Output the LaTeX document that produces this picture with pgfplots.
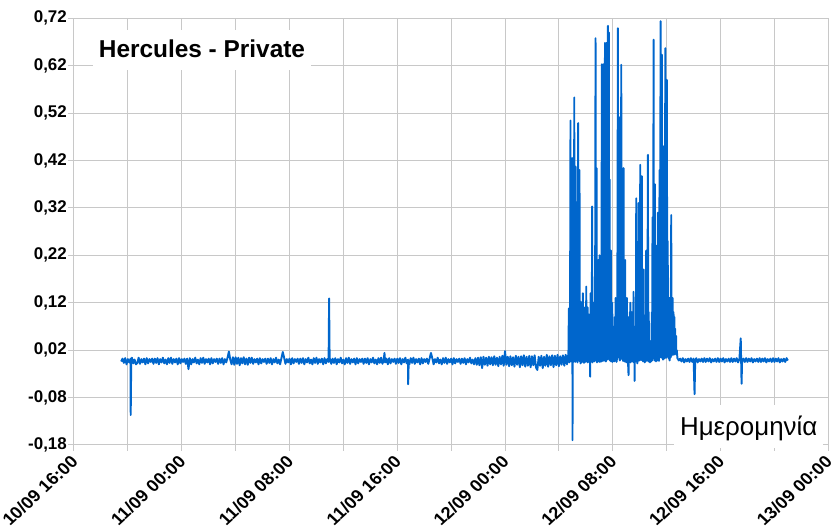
\documentclass[border=0pt]{standalone}
\usepackage{pgfplots}
\pgfplotsset{compat=1.18}
\usepackage{fontspec}
\setmainfont{Liberation Sans}
\definecolor{series}{HTML}{0066CC}
\definecolor{gridc}{HTML}{C8C8C8}

\begin{document}
\begin{tikzpicture}
\begin{axis}[
  scale only axis, width=754.3bp, height=426.6bp,
  xmin=0, xmax=56, ymin=-0.18, ymax=0.72,
  xtick={0,8,...,56}, minor xtick={4,12,...,52},
  xticklabels={10/09 16:00, 11/09 00:00, 11/09 08:00, 11/09 16:00, 12/09 00:00, 12/09 08:00, 12/09 16:00, 13/09 00:00},
  ytick={-0.18,-0.08,0.02,0.12,0.22,0.32,0.42,0.52,0.62,0.72},
  yticklabels={{-0,18},{-0,08},{0,02},{0,12},{0,22},{0,32},{0,42},{0,52},{0,62},{0,72}},
  grid=both,
  major grid style={draw=gridc, line width=1bp},
  minor grid style={draw=gridc, line width=1bp},
  axis line style={draw=gridc, line width=1bp},
  tick style={draw=gridc, line width=1bp},
  tick align=outside, tick pos=left,
  major tick length=6bp, minor tick length=6bp,
  ticklabel style={font=\bfseries\fontsize{17}{20}\selectfont},
  xticklabel style={xshift=-4.3bp, yshift=-2.9bp, xscale=1.08, rotate=45,
                    anchor=north east, inner sep=0pt},
  yticklabel style={inner sep=1bp},
  clip=false,
]
% time in hours after 10/09 16:00
\addplot[series, line width=1.9bp, line join=round] coordinates {
(3.5,-0.004) (3.6,0.002) (3.7,-0.007) (3.8,0.003) (3.9,-0.010) (4.0,0.001) (4.1,-0.006)
(4.2,0.002) (4.21,-0.117) (4.25,-0.006) (4.3,0.004) (4.4,-0.008) (4.5,0.000) (4.6,-0.010)
(4.7,-0.007) (4.8,0.004) (4.9,-0.009) (5.0,0.001) (5.1,-0.006) (5.2,0.002) (5.3,-0.010)
(5.4,0.003) (5.5,-0.008) (5.6,0.001) (5.7,-0.005) (5.8,0.002)
(5.9,-0.009) (6.0,0.002) (6.1,-0.007) (6.2,0.003) (6.3,-0.010) (6.4,0.001) (6.5,-0.006)
(6.6,0.004) (6.7,-0.008) (6.8,0.000) (6.9,-0.010) (7.0,0.003)
(7.1,-0.007) (7.2,0.004) (7.3,-0.009) (7.4,0.001) (7.5,-0.006) (7.6,0.002) (7.7,-0.010)
(7.8,0.003) (7.9,-0.008) (8.0,0.001) (8.1,-0.005) (8.2,0.002)
(8.3,-0.009) (8.4,0.002) (8.5,-0.020) (8.6,0.003) (8.7,-0.010) (8.8,0.001) (8.9,-0.006)
(9.0,0.004) (9.1,-0.008) (9.2,0.000) (9.3,-0.010) (9.4,0.003)
(9.5,-0.007) (9.6,0.004) (9.7,-0.009) (9.8,0.001) (9.9,-0.006) (10.0,0.002) (10.1,-0.010)
(10.2,0.003) (10.3,-0.008) (10.4,0.001) (10.5,-0.005) (10.6,0.002)
(10.7,-0.009) (10.8,0.002) (10.9,-0.007) (11.0,0.003) (11.1,-0.010) (11.2,0.001) (11.3,-0.006)
(11.4,0.004) (11.5,0.017) (11.6,0.000) (11.7,-0.010) (11.8,0.005)
(11.9,-0.011) (12.0,0.005) (12.1,-0.009) (12.2,0.004) (12.3,-0.012) (12.4,0.003) (12.5,-0.008)
(12.6,0.005) (12.7,-0.010) (12.8,0.002) (12.9,-0.011) (13.0,0.004)
(13.1,-0.007) (13.2,0.004) (13.3,-0.009) (13.4,0.001) (13.5,-0.006) (13.6,0.002) (13.7,-0.010)
(13.8,0.003) (13.9,-0.008) (14.0,0.001) (14.1,-0.005) (14.2,0.002)
(14.3,-0.009) (14.4,0.002) (14.5,-0.007) (14.6,0.003) (14.7,-0.010) (14.8,0.001) (14.9,-0.006)
(15.0,0.004) (15.1,-0.008) (15.2,0.000) (15.3,-0.010) (15.4,0.003)
(15.5,0.016) (15.6,0.004) (15.7,-0.009) (15.8,0.001) (15.9,-0.006) (16.0,0.002) (16.1,-0.010)
(16.2,0.003) (16.3,-0.008) (16.4,0.001) (16.5,-0.005) (16.6,0.002)
(16.7,-0.009) (16.8,0.002) (16.9,-0.007) (17.0,0.003) (17.1,-0.010) (17.2,0.001) (17.3,-0.006)
(17.4,0.004) (17.5,-0.008) (17.6,0.000) (17.7,-0.010) (17.8,0.003)
(17.9,-0.007) (18.0,0.004) (18.1,-0.009) (18.2,0.001) (18.3,-0.006) (18.4,0.002) (18.5,-0.010)
(18.6,0.003) (18.7,-0.008) (18.8,0.001) (18.9,-0.005) (18.94,0.129) (18.98,-0.004) (19.0,0.002)
(19.1,-0.009) (19.2,0.002) (19.3,-0.007) (19.4,0.003) (19.5,-0.010) (19.6,0.001) (19.7,-0.006)
(19.8,0.004) (19.9,-0.008) (20.0,0.000) (20.1,-0.010) (20.2,0.003)
(20.3,-0.007) (20.4,0.004) (20.5,-0.009) (20.6,0.001) (20.7,-0.006) (20.8,0.002) (20.9,-0.010)
(21.0,0.003) (21.1,-0.008) (21.2,0.001) (21.3,-0.005) (21.4,0.002)
(21.5,-0.009) (21.6,0.002) (21.7,-0.007) (21.8,0.003) (21.9,-0.010) (22.0,0.001) (22.1,-0.006)
(22.2,0.004) (22.3,-0.008) (22.4,0.000) (22.5,-0.010) (22.6,0.003)
(22.7,-0.007) (22.8,0.004) (22.9,-0.009) (23.0,0.001) (23.05,0.014) (23.1,-0.006) (23.2,0.002)
(23.3,-0.010) (23.4,0.003) (23.5,-0.008) (23.6,0.001) (23.7,-0.005) (23.8,0.002)
(23.9,-0.009) (24.0,0.002) (24.1,-0.007) (24.2,0.003) (24.3,-0.010) (24.4,0.001) (24.5,-0.006)
(24.6,0.004) (24.7,-0.008) (24.8,0.000) (24.81,-0.052) (24.85,-0.004) (24.9,-0.010) (25.0,0.003)
(25.1,-0.007) (25.2,0.004) (25.3,-0.009) (25.4,0.001) (25.5,-0.006) (25.6,0.002) (25.7,-0.010)
(25.8,0.003) (25.9,-0.008) (26.0,0.001) (26.1,-0.005) (26.2,0.002)
(26.3,-0.009) (26.4,0.002) (26.5,0.014) (26.6,0.003) (26.7,-0.010) (26.8,0.001) (26.9,-0.006)
(27.0,0.004) (27.1,-0.008) (27.2,0.000) (27.3,-0.010) (27.4,0.003)
(27.5,-0.007) (27.6,0.004) (27.7,-0.009) (27.8,0.001) (27.9,-0.006) (28.0,0.002) (28.1,-0.010)
(28.2,0.003) (28.3,-0.008) (28.4,0.001) (28.5,-0.005) (28.6,0.002)
(28.7,-0.009) (28.8,0.002) (28.9,-0.007) (29.0,0.003) (29.1,-0.010) (29.2,0.001) (29.3,-0.006)
(29.4,0.004) (29.5,-0.008) (29.6,0.000) (29.7,-0.010) (29.8,0.003)
(29.9,-0.011) (30.0,0.004) (30.1,-0.012) (30.2,0.005) (30.3,-0.018) (30.4,0.006) (30.5,-0.011)
(30.6,0.004) (30.7,-0.013) (30.8,0.006) (30.9,-0.010) (31.0,0.005)
(31.1,-0.012) (31.2,0.007) (31.3,-0.011) (31.4,0.004) (31.5,-0.014) (31.6,0.006) (31.7,-0.010)
(31.8,0.008) (31.9,-0.013) (32.0,0.018) (32.1,-0.011) (32.2,0.006)
(32.3,-0.014) (32.4,0.007) (32.5,-0.012) (32.6,0.005) (32.7,-0.015) (32.8,0.008) (32.9,-0.011)
(33.0,0.006) (33.1,-0.016) (33.2,0.007) (33.3,-0.012) (33.4,0.009)
(33.5,-0.015) (33.6,0.006) (33.7,-0.013) (33.8,0.008) (33.9,-0.016) (34.0,0.007) (34.1,-0.012)
(34.2,0.009) (34.3,-0.017) (34.4,-0.022) (34.5,0.006) (34.6,-0.013)
(34.7,0.008) (34.8,-0.018) (34.9,0.006) (35.0,-0.013) (35.1,0.010) (35.2,-0.015) (35.3,0.007)
(35.4,-0.012) (35.5,0.009) (35.6,-0.016) (35.7,0.008) (35.8,-0.012)
(35.9,0.010) (36.0,-0.014) (36.1,0.007) (36.2,-0.011) (36.3,0.009) (36.4,-0.013) (36.5,0.010)
(36.6,-0.010) (36.65,0.008)
(36.70,-0.004) (36.74,0.108) (36.76,-0.006) (36.80,0.090) (36.82,-0.002) (36.86,0.504)
(36.88,-0.004) (36.92,0.110) (36.94,0.000) (36.99,0.425) (37.01,-0.170) (37.03,0.080)
(37.05,-0.006) (37.09,0.120) (37.11,-0.002) (37.14,0.553) (37.16,0.000) (37.19,0.100)
(37.21,-0.005) (37.24,0.407) (37.26,-0.003) (37.30,0.120) (37.32,0.002) (37.36,0.090)
(37.38,-0.006) (37.43,0.499) (37.45,-0.002) (37.49,0.110) (37.51,0.001) (37.53,0.400)
(37.55,-0.004) (37.58,0.100) (37.60,-0.008) (37.61,0.122) (37.64,-0.003) (37.67,0.090)
(37.69,-0.006) (37.73,0.110) (37.75,0.000) (37.78,0.140) (37.80,-0.004) (37.84,0.080)
(37.86,-0.007) (37.90,0.100) (37.91,-0.002) (37.93,0.110) (37.96,-0.005) (37.99,0.090)
(38.01,0.000) (38.03,0.154) (38.05,-0.004) (38.08,0.100) (38.10,-0.002) (38.13,0.110)
(38.15,-0.006) (38.18,0.080) (38.20,-0.003) (38.23,0.095) (38.25,-0.005) (38.29,0.070)
(38.32,-0.036) (38.35,0.140) (38.37,-0.004) (38.41,0.100) (38.43,-0.002) (38.47,0.323)
(38.49,-0.006) (38.53,0.120) (38.55,0.001) (38.60,0.120) (38.62,-0.004) (38.66,0.090)
(38.68,-0.002) (38.72,0.678) (38.74,0.000) (38.77,0.150) (38.78,-0.003) (38.80,0.404)
(38.82,-0.006) (38.86,0.130) (38.88,-0.002) (38.92,0.210) (38.94,-0.004) (38.97,0.120)
(38.99,0.000) (39.02,0.220) (39.04,-0.005) (39.08,0.140) (39.10,-0.002) (39.14,0.200)
(39.15,-0.004) (39.19,0.623) (39.21,0.000) (39.25,0.300) (39.27,-0.003) (39.31,0.623)
(39.33,0.002) (39.37,0.350) (39.38,-0.002) (39.42,0.668) (39.44,0.000) (39.48,0.260)
(39.49,-0.004) (39.52,0.668) (39.54,0.400) (39.56,0.002) (39.60,0.450) (39.62,0.000)
(39.64,0.704) (39.66,0.010) (39.69,0.550) (39.71,0.690) (39.73,0.004) (39.76,0.380)
(39.78,-0.002) (39.82,0.150) (39.84,0.000) (39.86,0.230) (39.88,-0.004) (39.92,0.100)
(39.94,-0.002) (39.96,0.120) (39.98,-0.005) (40.02,0.040) (40.05,-0.003) (40.08,0.010)
(40.11,-0.004) (40.15,0.090) (40.17,0.000) (40.21,0.130) (40.23,-0.003) (40.27,0.100)
(40.28,-0.005) (40.30,0.110) (40.33,0.000) (40.38,0.699) (40.40,0.020) (40.45,0.512)
(40.47,0.004) (40.51,0.090) (40.53,-0.002) (40.55,0.100) (40.58,0.000) (40.63,0.622)
(40.65,0.010) (40.68,0.300) (40.70,0.002) (40.74,0.120) (40.76,-0.003) (40.80,0.404)
(40.82,0.000) (40.86,0.150) (40.88,-0.004) (40.92,0.210) (40.94,0.000) (40.98,0.110)
(41.00,-0.006) (41.05,0.130) (41.07,-0.002) (41.11,0.090) (41.13,-0.005) (41.17,-0.033)
(41.19,0.080) (41.22,-0.004) (41.26,0.100) (41.28,-0.002) (41.30,0.120) (41.32,-0.006)
(41.36,0.090) (41.38,0.000) (41.42,0.100) (41.44,-0.004) (41.48,0.080) (41.50,-0.002)
(41.54,0.143) (41.56,-0.006) (41.59,0.070) (41.62,-0.045) (41.64,0.010) (41.67,0.000)
(41.70,0.050) (41.72,-0.004) (41.74,0.340) (41.76,0.000) (41.80,0.060) (41.82,-0.008)
(41.84,0.000) (41.87,0.120) (41.89,-0.003) (41.91,0.330) (41.93,0.002) (41.97,0.200)
(41.99,-0.002) (42.04,0.411) (42.06,0.004) (42.10,0.250) (42.12,-0.001) (42.16,0.387)
(42.18,0.002) (42.22,0.150) (42.24,-0.004) (42.29,0.190) (42.31,-0.002) (42.35,0.060)
(42.37,-0.006) (42.41,0.002) (42.44,-0.004) (42.46,0.080) (42.48,0.230) (42.50,-0.002)
(42.54,0.140) (42.56,0.000) (42.61,0.432) (42.63,-0.004) (42.67,0.100) (42.69,-0.002)
(42.73,0.002) (42.76,-0.006) (42.80,0.030) (42.83,0.040) (42.85,-0.004) (42.90,0.100)
(42.92,-0.002) (42.95,0.300) (42.97,0.002) (43.00,0.200) (43.03,0.675) (43.05,0.004)
(43.09,0.180) (43.11,-0.002) (43.13,0.370) (43.15,0.000) (43.19,0.150) (43.21,-0.004)
(43.23,0.240) (43.25,0.000) (43.29,0.200) (43.31,-0.002) (43.35,0.310) (43.37,0.002)
(43.41,0.220) (43.43,-0.003) (43.47,0.400) (43.49,0.004) (43.52,0.300) (43.55,0.714)
(43.57,0.010) (43.60,0.350) (43.62,0.004) (43.65,0.643) (43.67,0.006) (43.71,0.300)
(43.73,0.000) (43.77,0.450) (43.79,0.004) (43.83,0.280) (43.85,0.002) (43.90,0.657)
(43.92,0.008) (43.96,0.400) (43.98,0.004) (44.02,0.590) (44.04,0.010) (44.08,0.250)
(44.10,0.006) (44.14,0.110) (44.16,0.002) (44.20,0.130) (44.22,-0.002) (44.27,0.060)
(44.29,0.004) (44.34,0.305) (44.36,0.008) (44.40,0.120) (44.42,0.010) (44.44,0.130)
(44.46,0.012) (44.51,0.100) (44.53,0.010) (44.57,0.090) (44.59,0.014) (44.63,0.065)
(44.65,0.012) (44.70,0.050) (44.72,0.010) (44.75,0.020) (44.80,0.003)
(44.9,-0.002) (45.0,0.002) (45.1,-0.004) (45.2,0.003) (45.3,-0.006) (45.4,0.001) (45.5,-0.004)
(45.6,0.002) (45.7,-0.005) (45.8,0.003) (45.9,-0.005) (46.0,0.002) (46.07,-0.073) (46.12,-0.003)
(46.2,0.003) (46.3,-0.006) (46.4,0.001) (46.5,-0.004) (46.6,0.002) (46.7,-0.005) (46.8,0.003)
(46.9,-0.005) (47.0,0.002) (47.1,-0.004) (47.2,0.003) (47.3,-0.006) (47.4,0.001) (47.5,-0.004)
(47.6,0.002) (47.7,-0.005) (47.8,0.003) (47.9,-0.005) (48.0,0.002) (48.1,-0.004) (48.2,0.003)
(48.3,-0.006) (48.4,0.001) (48.5,-0.004) (48.6,0.002) (48.7,-0.005) (48.8,0.003) (48.9,-0.005)
(49.0,0.002) (49.1,-0.004) (49.2,0.003) (49.3,-0.006) (49.4,0.001) (49.5,0.045) (49.56,-0.051)
(49.6,-0.004) (49.7,0.002) (49.8,-0.005) (49.9,0.003) (50.0,-0.005) (50.1,0.002) (50.2,-0.004)
(50.3,0.003) (50.4,-0.006) (50.5,0.001) (50.6,-0.004) (50.7,0.002) (50.8,-0.005) (50.9,0.003)
(51.0,-0.005) (51.1,0.002) (51.2,-0.004) (51.3,0.003) (51.4,-0.006) (51.5,0.001) (51.6,-0.004)
(51.7,0.002) (51.8,-0.005) (51.9,0.003) (52.0,-0.005) (52.1,0.002) (52.2,-0.004) (52.3,0.003)
(52.4,-0.006) (52.5,0.001) (52.6,-0.004) (52.7,0.002) (52.8,-0.005) (52.9,0.003) (53.0,-0.002)
};
\node[anchor=base, fill=white, inner xsep=5.5bp, inner ysep=10bp,
      text height=17.5bp, text depth=2.7bp,
      font=\bfseries\fontsize{24.5}{28}\selectfont]
  at (rel axis cs:0.1697,0.9086) {Hercules - Private};
\node[anchor=base, fill=white, inner xsep=6bp, inner ysep=6bp,
      text height=25bp, text depth=6bp,
      font=\fontsize{26}{30}\selectfont]
  at (rel axis cs:0.8945,0.0216) {Ημερομηνία};
\end{axis}
\pgfresetboundingbox
\path[use as bounding box] (-74bp,-86.1bp) rectangle (759bp,444.9bp);
\end{tikzpicture}
\end{document}
